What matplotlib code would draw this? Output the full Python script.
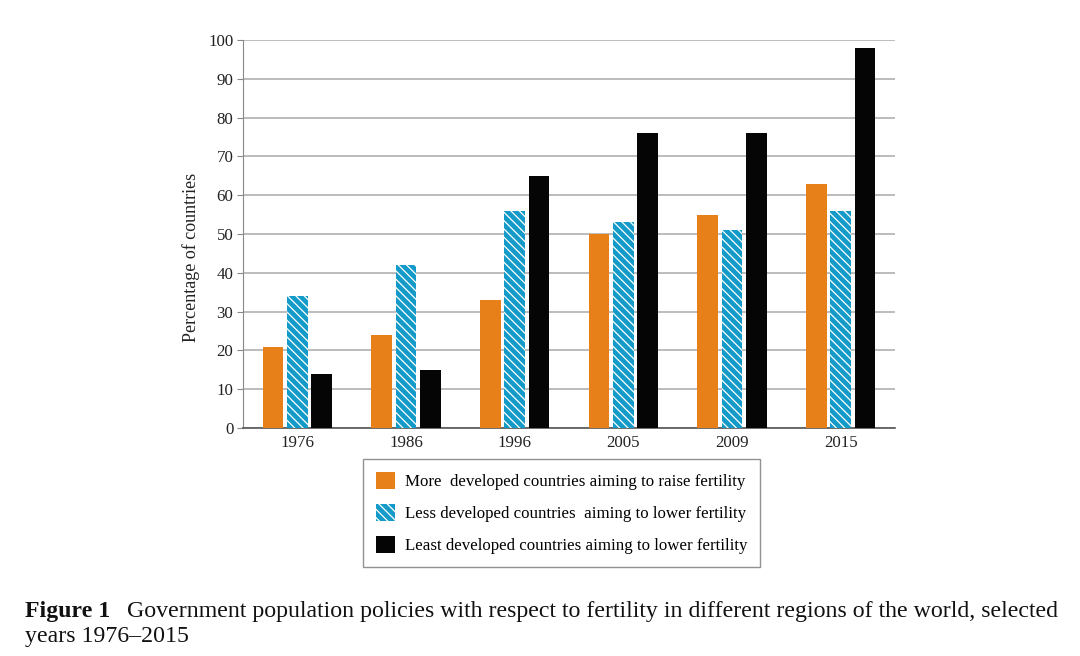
import numpy as np
import matplotlib
matplotlib.use("Agg")
import matplotlib.pyplot as plt

plt.rcParams['font.family'] = ['Liberation Serif', 'DejaVu Serif']
plt.rcParams['hatch.linewidth'] = 0.9

years = ["1976", "1986", "1996", "2005", "2009", "2015"]
more_dev = [21, 24, 33, 50, 55, 63]
less_dev = [34, 42, 56, 53, 51, 56]
least_dev = [14, 15, 65, 76, 76, 98]
labels = ["More  developed countries aiming to raise fertility",
          "Less developed countries  aiming to lower fertility",
          "Least developed countries aiming to lower fertility"]

fig = plt.figure(figsize=(10.8, 6.56), dpi=100)
ax = fig.add_axes([0.225, 0.3476, 0.6037, 0.5914])

x = np.arange(len(years))
w = 0.19
step = 0.225
ax.bar(x - step, more_dev, w, color='#e8801a', label=labels[0], zorder=3)
ax.bar(x, less_dev, w, color='#139ac8', edgecolor='white', linewidth=0,
       hatch='\\\\\\\\', label=labels[1], zorder=3)
ax.bar(x + step, least_dev, w, color='#050505', label=labels[2], zorder=3)

ax.set_xlim(-0.5, len(years) - 0.5)
ax.set_ylim(0, 100)
ax.set_yticks(range(0, 101, 10))
ax.set_xticks(x)
ax.set_xticklabels(years)
ax.tick_params(axis='both', labelsize=12.2, colors='#222222', length=4,
               color='#888888')
ax.tick_params(axis='x', length=0, pad=5)
ax.tick_params(axis='y', pad=3)
ax.yaxis.grid(True, color='#b0b0b0', linewidth=1.2, zorder=0)
for s in ['top', 'right']:
    ax.spines[s].set_visible(False)
ax.spines['left'].set_color('#888888')
ax.spines['bottom'].set_color('#555555')
ax.spines['bottom'].set_linewidth(1.2)
ax.set_ylabel('Percentage of countries', fontsize=13, color='#222222')
ax.yaxis.set_label_coords(-0.066, 0.44)

leg = fig.legend(loc='upper center', bbox_to_anchor=(0.52, 0.3), fontsize=12.2,
                 fancybox=False, edgecolor='#777777', handlelength=1.15,
                 handleheight=1.2, labelspacing=0.8, borderpad=0.75,
                 handletextpad=0.6, borderaxespad=0)
leg.get_frame().set_linewidth(1.0)

fig.text(0.023, 0.06, 'Figure 1', fontsize=17.2, fontweight='bold', color='#111111')
fig.text(0.118, 0.06, 'Government population policies with respect to fertility '
         'in different regions of the world, selected', fontsize=17.2, color='#111111')
fig.text(0.023, 0.022, 'years 1976\u20132015', fontsize=17.2, color='#111111')

fig.savefig('out.png', dpi=100)
